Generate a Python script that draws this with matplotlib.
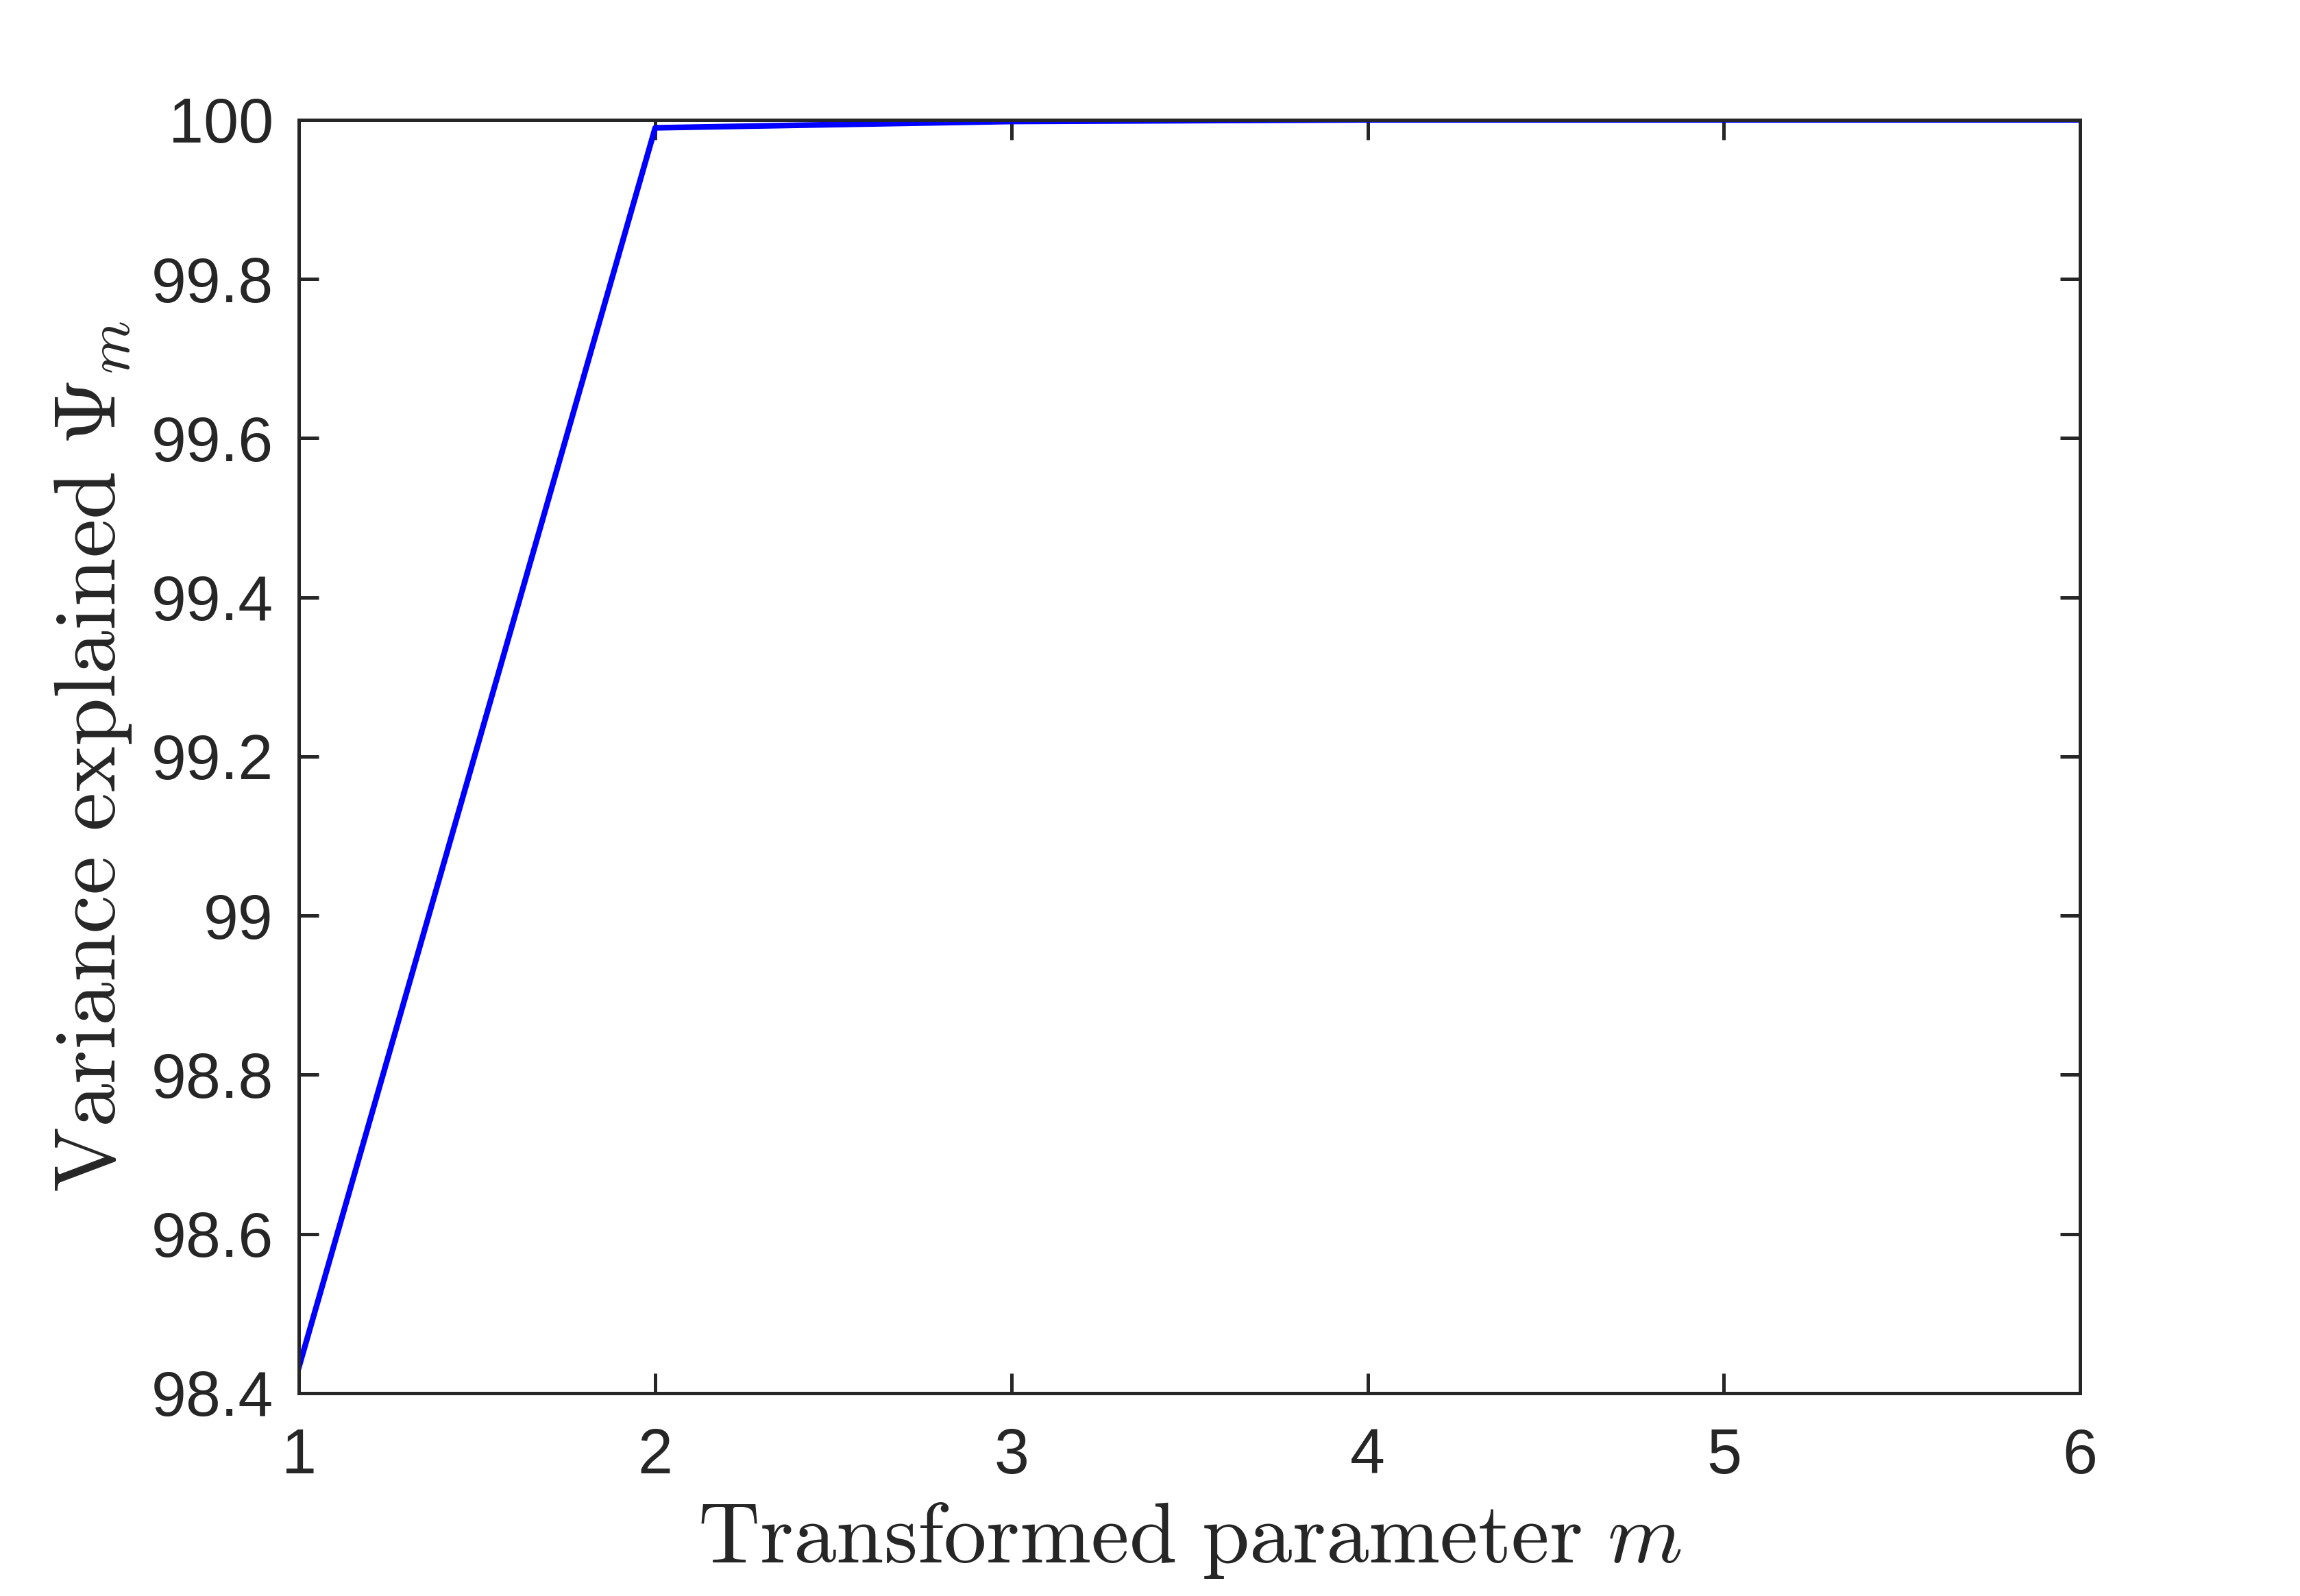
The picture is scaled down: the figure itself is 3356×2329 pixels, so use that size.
import matplotlib
matplotlib.use("Agg")
import matplotlib.pyplot as plt

m_values = [1, 2, 3, 4, 5, 6]
variance_explained = [98.433, 99.990, 99.998, 100.0, 100.0, 100.0]
x_ticks = [1, 2, 3, 4, 5, 6]
y_ticks = [98.4, 98.6, 98.8, 99.0, 99.2, 99.4, 99.6, 99.8, 100.0]
y_tick_labels = ["98.4", "98.6", "98.8", "99", "99.2", "99.4", "99.6", "99.8", "100"]

plt.rcParams["mathtext.fontset"] = "cm"
plt.rcParams["font.family"] = ["Liberation Sans", "DejaVu Sans"]

dark = "#262626"

fig = plt.figure(figsize=(3356 / 300, 2329 / 300), dpi=300)
ax = fig.add_axes([0.130, 0.1271, 0.7744, 0.7978])

ax.plot(m_values, variance_explained, color="#0000ff", lw=2.0)

ax.set_xlim(1, 6)
ax.set_ylim(98.4, 100)
ax.set_xticks(x_ticks)
ax.set_yticks(y_ticks)
ax.set_yticklabels(y_tick_labels)

for s in ax.spines.values():
    s.set_color(dark)
    s.set_linewidth(1.2)

ax.tick_params(direction="in", length=7, width=1.2, colors=dark,
               labelsize=22, top=True, right=True)
ax.tick_params(axis="x", pad=12)
ax.tick_params(axis="y", pad=9)

ax.set_xlabel(r"$\mathrm{Transformed\ parameter}\ m$", fontsize=30, color=dark, labelpad=5)
ax.set_ylabel(r"$\mathrm{Variance\ explained}\ \Psi_m$", fontsize=30.5, color=dark, labelpad=6)

fig.savefig("out.png", dpi=300)
